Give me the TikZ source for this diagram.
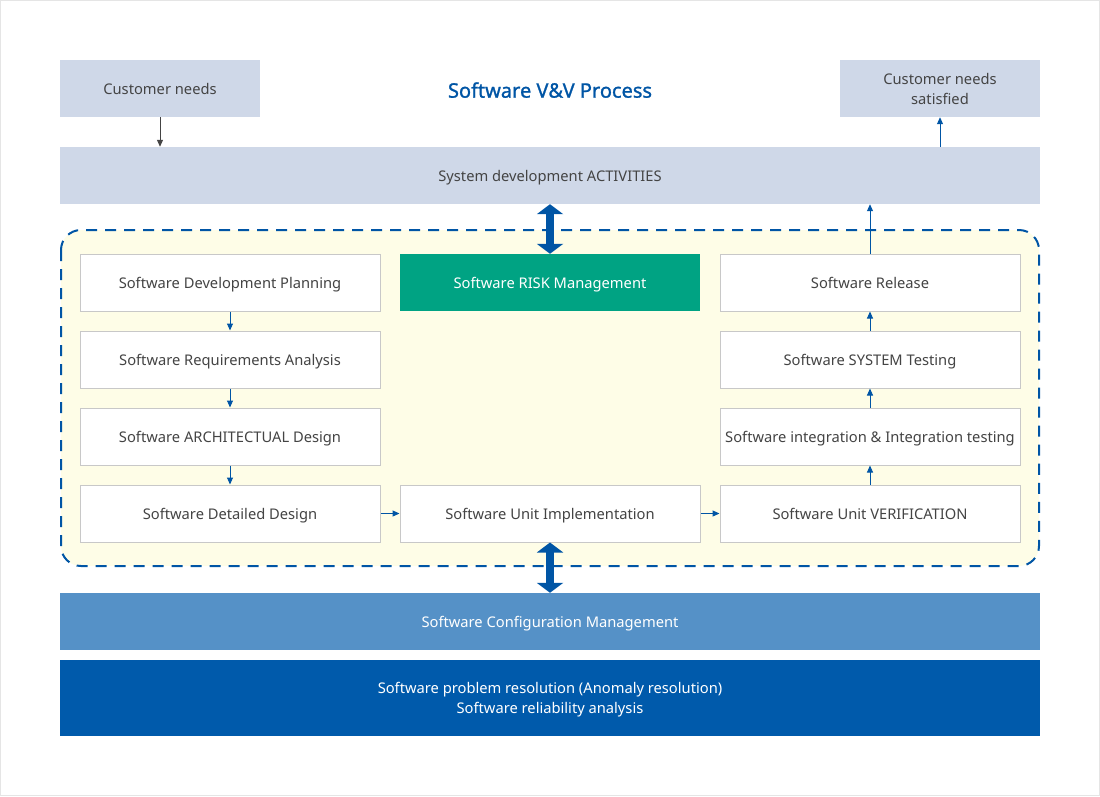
\documentclass[tikz,border=0pt]{standalone}
\usepackage{fontspec}
\setmainfont{Noto Sans}
\newfontfamily\titlefont[FakeBold=1.2]{Noto Sans}
\usetikzlibrary{arrows.meta}
\definecolor{bandgray}{HTML}{CFD8E8}
\definecolor{zonefill}{HTML}{FEFDE7}
\definecolor{vvblue}{HTML}{0055A5}
\definecolor{riskgreen}{HTML}{00A383}
\definecolor{configblue}{HTML}{5591C7}
\definecolor{probblue}{HTML}{005AAB}
\definecolor{txtgray}{HTML}{444444}
\definecolor{edgegray}{HTML}{C8C8C8}

\begin{document}
\begin{tikzpicture}[x=1pt,y=-1pt,
    txt/.style={font=\fontsize{14.7}{20}\selectfont, align=center, inner sep=0pt,
      text depth=0pt},
    stage/.style={txt, draw=edgegray, line width=1pt, fill=white, text=txtgray,
      minimum width=300pt, minimum height=57pt},
    band/.style={txt, fill=bandgray, text=txtgray, minimum width=980pt, minimum height=57pt},
    flow/.style={vvblue, line width=1pt, -{Triangle[width=6pt,length=7pt]}},
    twoway/.style={vvblue, line width=8pt,
      {Triangle[width=26pt,length=10pt]}-{Triangle[width=26pt,length=10pt]}}]

      % frame and process zone
      \draw[gray!20, line width=1pt] (0.5,0.5) rectangle (1099.5,795.5);
      \draw[vvblue, fill=zonefill, line width=2pt, dash pattern=on 11pt off 8pt,
        rounded corners=20pt] (61,230) rectangle (1039,566);

      % top row
      \node[txt, fill=bandgray, text=txtgray, minimum width=200pt, minimum height=57pt]
        (custneeds) at (160,88.5) {Customer needs};
      \node[txt, fill=bandgray, text=txtgray, minimum width=200pt, minimum height=57pt]
        (custsat) at (940,88.5) {Customer needs\\satisfied};
      \node[txt, text=vvblue, font=\fontsize{20}{24}\titlefont]
        (title) at (550,90) {Software V\&V Process};
      \node[band] (sysdev) at (550,175.5) {System development ACTIVITIES};

      % left column
      \node[stage] (planning) at (230,282.5) {Software Development Planning};
      \node[stage] (reqs) at (230,359.5) {Software Requirements Analysis};
      \node[stage] (archdesign) at (230,436.5) {Software ARCHITECTUAL Design};
      \node[stage] (detdesign) at (230,513.5) {Software Detailed Design};

      % middle column
      \node[txt, fill=riskgreen, text=white, minimum width=300pt, minimum height=57pt]
        (risk) at (550,282.5) {Software RISK Management};
      \node[stage] (unitimpl) at (550,513.5) {Software Unit Implementation};

      % right column
      \node[stage] (release) at (870,282.5) {Software Release};
      \node[stage] (systest) at (870,359.5) {Software SYSTEM Testing};
      \node[stage] (integ) at (870,436.5) {Software integration \& Integration testing};
      \node[stage] (unitverif) at (870,513.5) {Software Unit VERIFICATION};

      % bottom bands
      \node[band, fill=configblue, text=white] (config) at (550,621.5)
        {Software Configuration Management};
      \node[band, fill=probblue, text=white, minimum height=76pt] (problem) at (550,698)
        {Software problem resolution (Anomaly resolution)\\Software reliability analysis};

      % connectors
      \draw[txtgray, line width=1pt, -{Triangle[width=6pt,length=7pt]}]
        (custneeds.south) -- (custneeds.south |- sysdev.north);
      \draw[flow] (sysdev.north -| custsat.south) -- (custsat.south);
      \draw[flow] (release.north) -- (release.north |- sysdev.south);
      \draw[flow] (planning) -- (reqs);
      \draw[flow] (reqs) -- (archdesign);
      \draw[flow] (archdesign) -- (detdesign);
      \draw[flow] (detdesign) -- (unitimpl);
      \draw[flow] (unitimpl) -- (unitverif);
      \draw[flow] (unitverif) -- (integ);
      \draw[flow] (integ) -- (systest);
      \draw[flow] (systest) -- (release);
      \draw[twoway] (sysdev.south) -- (risk.north);
      \draw[twoway] (unitimpl.south) -- (config.north);
  \end{tikzpicture}
\end{document}
